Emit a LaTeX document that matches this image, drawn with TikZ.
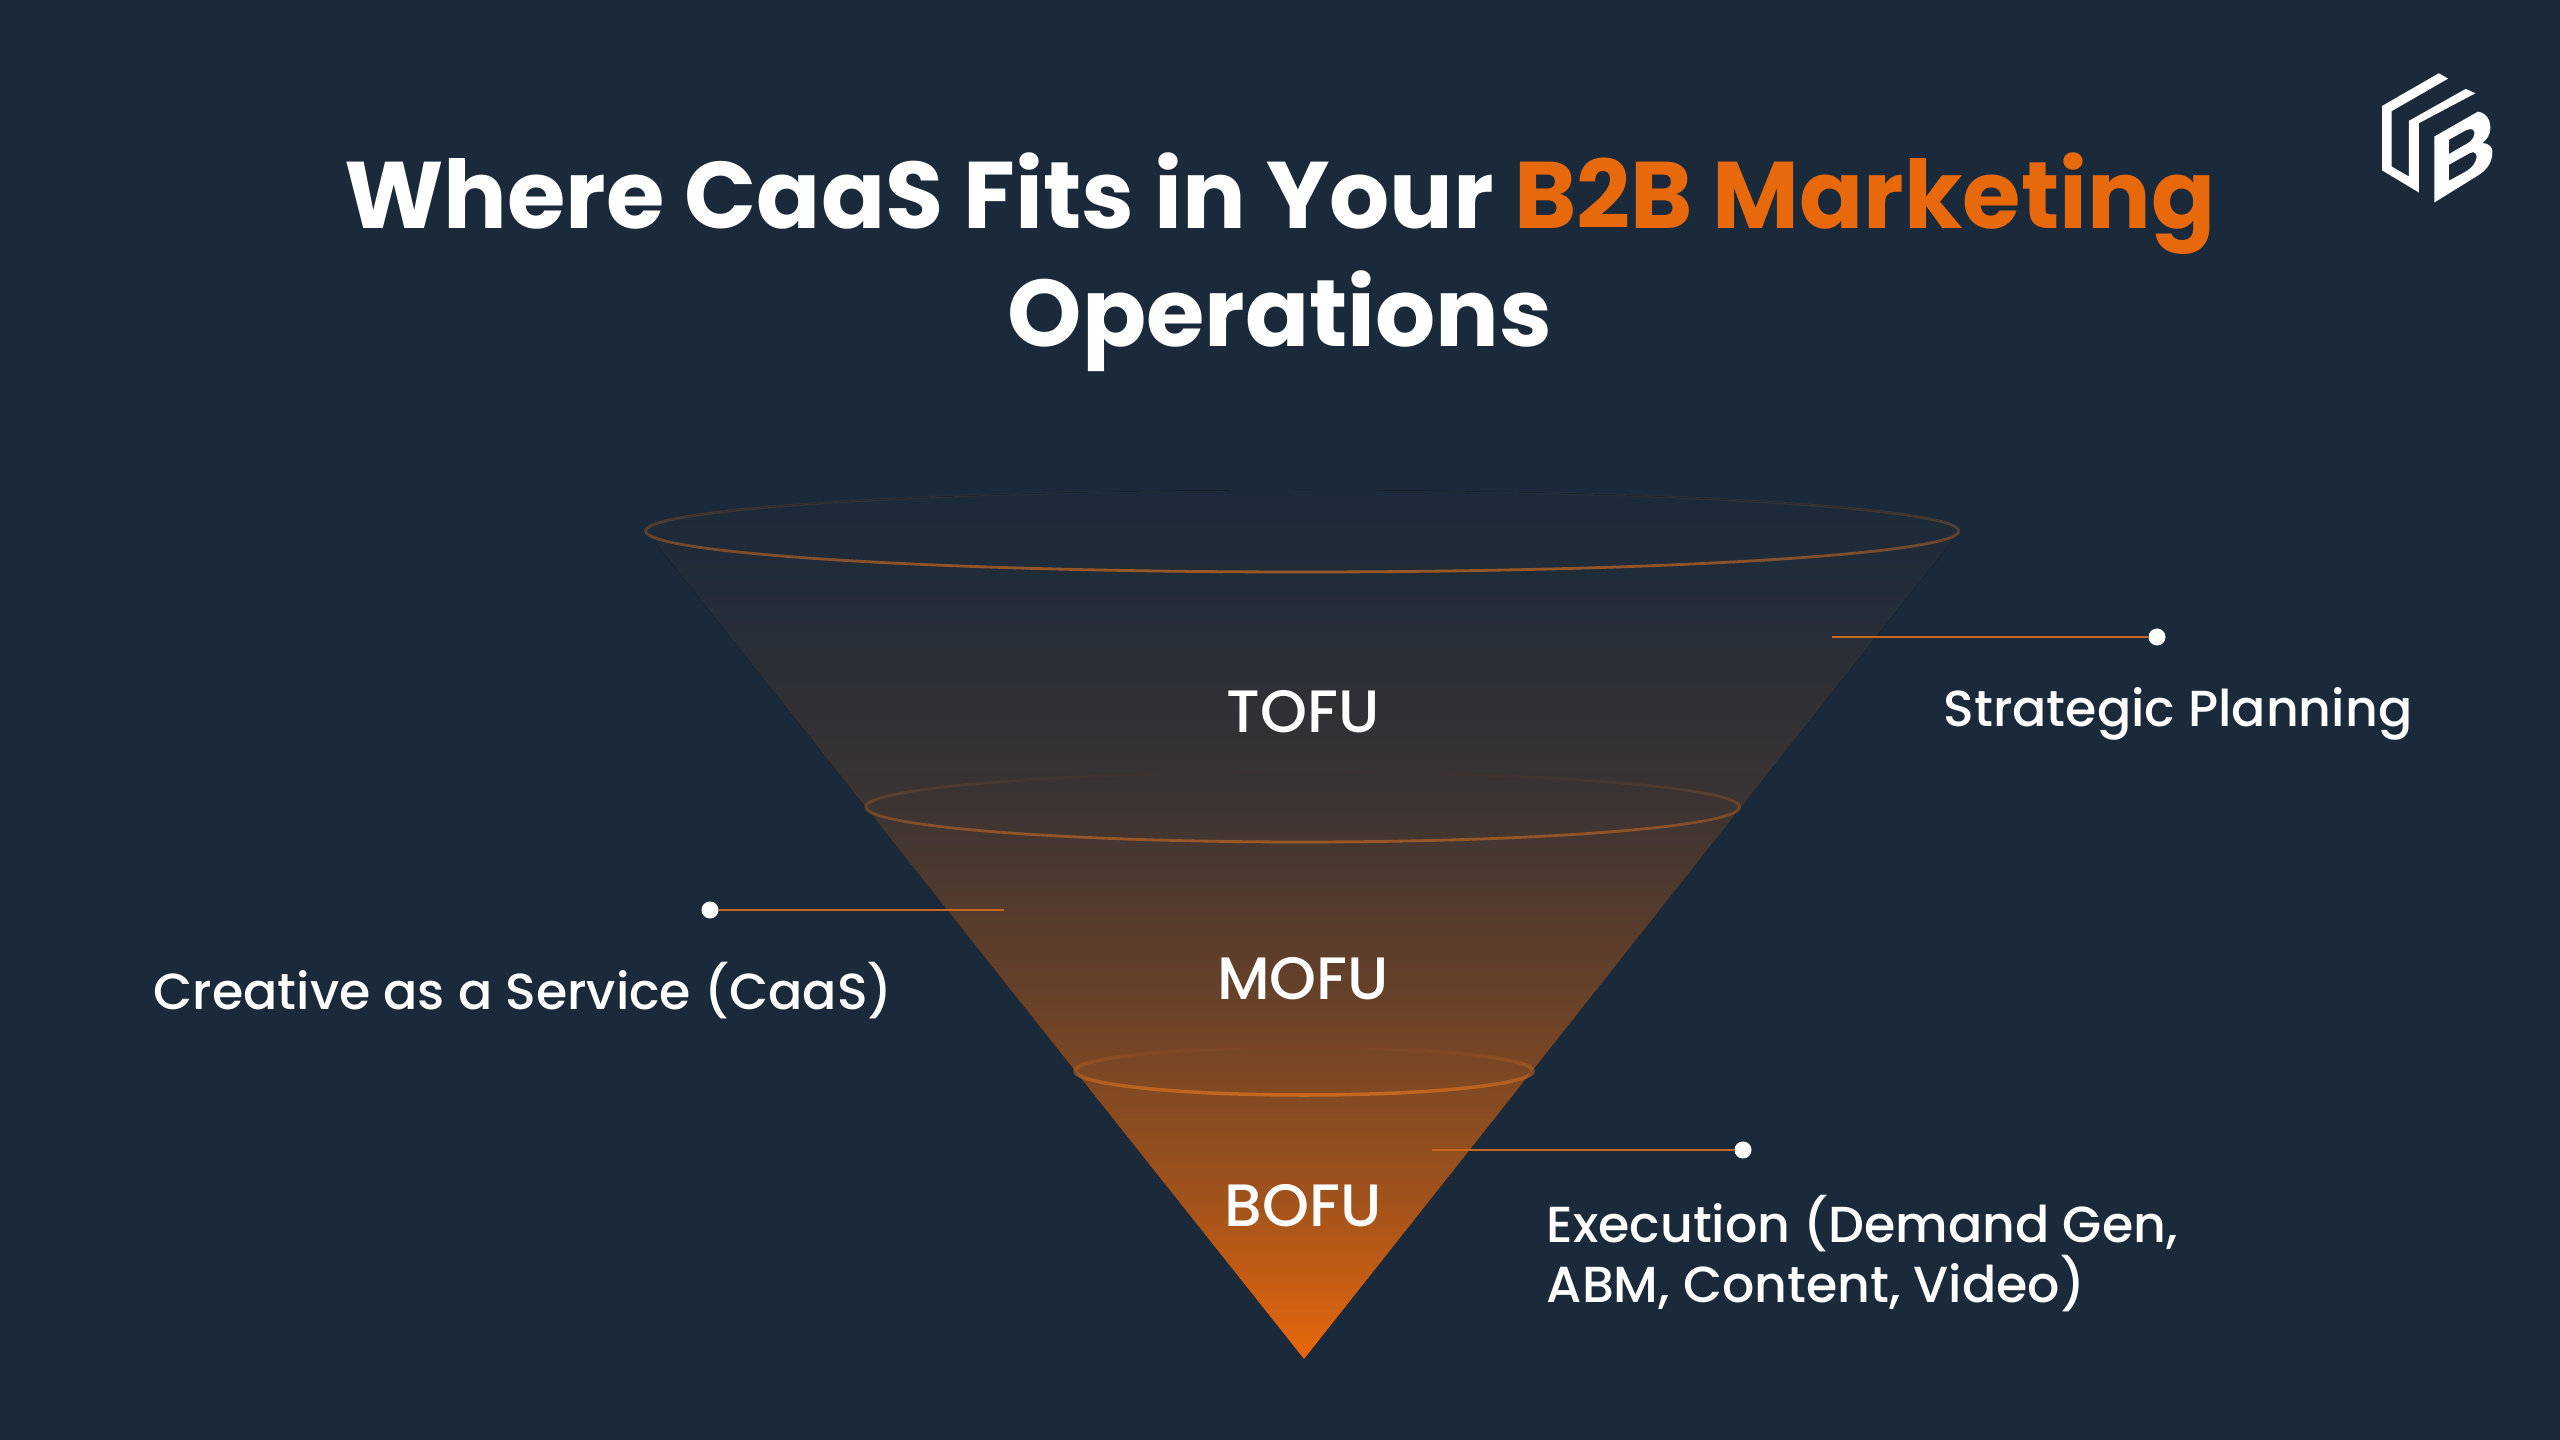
\documentclass[tikz,border=0pt]{standalone}
\usepackage{fontspec}
\setmainfont{Poppins}[UprightFont=* Medium,BoldFont=* Bold]
\usetikzlibrary{fadings}
\definecolor{bgnavy}{HTML}{1B2A3A}
\definecolor{brandorange}{HTML}{E8680C}
\definecolor{ringorange}{HTML}{C9691F}
\pgfdeclareverticalshading{funnelshade}{100bp}{
  color(0bp)=(brandorange);
  color(25bp)=(brandorange);
  color(34bp)=(brandorange!66!bgnavy);
  color(45.5bp)=(brandorange!38!bgnavy);
  color(57bp)=(brandorange!16!bgnavy);
  color(68.5bp)=(brandorange!4!bgnavy);
  color(75bp)=(bgnavy);
  color(100bp)=(bgnavy)}
\tikzset{
  stagetext/.style={text=white,font=\fontsize{17}{20}\selectfont,anchor=base},
  notetext/.style={text=white,font=\fontsize{14.4}{17}\selectfont,anchor=base west,align=left,inner sep=0pt},
  titletext/.style={text=white,font=\bfseries\fontsize{26.9}{34}\selectfont,anchor=base},
  dotmark/.style={circle,fill=white,inner sep=0pt,minimum size=0.17cm},
  leadline/.style={ringorange,line width=0.6pt},
  ring/.style={ringorange!75!bgnavy,line width=0.8pt,path fading=north}
}
\begin{document}
\begin{tikzpicture}[x=0.01cm,y=-0.01cm]
    \useasboundingbox (0,0) rectangle (2560,1440);
    \fill[bgnavy] (0,0) rectangle (2560,1440);
    % title
    \node[titletext] (title) at (1280,229) {Where CaaS Fits in Your \textcolor{brandorange}{B2B Marketing}};
    \node[titletext] (titletwo) at (1280,347) {Operations};
    % funnel
    \coordinate (apex) at (1304,1359);
    \fill[shading=funnelshade] (646,531) arc (180:360:657 and 41) -- (apex) -- cycle;
    \draw[ring] (1303,531) ellipse (657 and 41);
    \draw[ring] (1303,807) ellipse (437 and 35);
    \draw[ring,ringorange,line width=1pt] (1304,1071) ellipse (229 and 24);
    \node[stagetext] (tofu) at (1303,733) {TOFU};
    \node[stagetext] (mofu) at (1303,999) {MOFU};
    \node[stagetext] (bofu) at (1303,1226) {BOFU};
    % notes
    \coordinate (planstart) at (1832,637);
    \node[dotmark] (plandot) at (2157,637) {};
    \draw[leadline] (planstart)--(plandot);
    \node[notetext] (plan) at (1943,727) {Strategic Planning};
    \coordinate (caasstart) at (1004,910);
    \node[dotmark] (caasdot) at (710,910) {};
    \draw[leadline] (caasstart)--(caasdot);
    \node[notetext] (caas) at (153,1009) {Creative as a Service (CaaS)};
    \coordinate (execstart) at (1432,1150);
    \node[dotmark] (execdot) at (1743,1150) {};
    \draw[leadline] (execstart)--(execdot);
    \node[notetext] (exec) at (1546,1242) {Execution (Demand Gen,};
    \node[notetext] (exectwo) at (1546,1302) {ABM, Content, Video)};
    % logo
    \begin{scope}[shift={(2300,40)},x=0.00333cm,y=-0.00333cm]
        \fill[white] (417,100)--(247,198)--(247,392)--(357,458)--(357,250)--(527,160)--(498,147)--(327,243)--(327,410)--(275,380)--(275,214)--(445,116)--cycle;
        \fill[white,even odd rule] (404,290)--(535,215) .. controls (570,222) and (572,255) .. (572,265)
            .. controls (572,285) and (560,300) .. (548,310) .. controls (570,310) and (578,325) .. (578,335)
            .. controls (578,375) and (555,395) .. (530,410)--(404,488)--cycle
            (447,300)--(497,272) .. controls (520,262) and (528,270) .. (522,290) .. controls (518,300) and (505,312) .. (490,318)--(447,343)--cycle
            (447,375)--(510,340) .. controls (530,332) and (535,345) .. (527,365) .. controls (520,380) and (510,388) .. (495,397)--(447,423)--cycle;
    \end{scope}
\end{tikzpicture}
\end{document}
